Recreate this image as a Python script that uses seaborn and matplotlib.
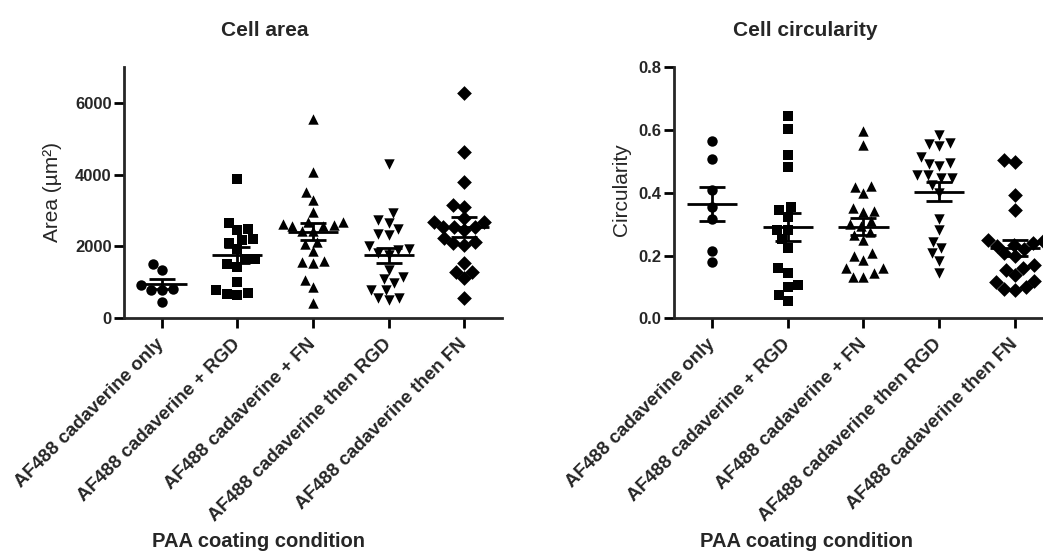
import matplotlib
matplotlib.use("Agg")
import matplotlib.pyplot as plt
import seaborn as sns
import numpy as np
import pandas as pd

##### Données (une liste par condition)
conditions = [
    "AF488 cadaverine only",
    "AF488 cadaverine + RGD",
    "AF488 cadaverine + FN",
    "AF488 cadaverine then RGD",
    "AF488 cadaverine then FN",
]

# Cell area (µm²)
area_only = [1500, 1340, 930, 820, 800, 780, 450]
area_plus_rgd = [3880, 2660, 2480, 2470, 2200, 2180, 2090, 1920, 1650, 1640, 1510,
                 1420, 1020, 790, 700, 690, 650]
area_plus_fn = [5540, 4080, 3510, 3290, 2970, 2690, 2690, 2620, 2600, 2580, 2560,
                2440, 2440, 2130, 2070, 1860, 1580, 1530, 1600, 1070, 880, 420]
area_then_rgd = [4300, 2920, 2740, 2650, 2480, 2320, 2350, 2000, 1920, 1830, 1900,
                 1350, 1090, 1160, 970, 790, 790, 560, 510, 560, 1750]
area_then_fn = [6260, 4640, 3800, 3110, 3150, 2690, 2780, 2690, 2460, 2550, 2550,
                2550, 2130, 2040, 2090, 2230, 1530, 1300, 1110, 1300, 560]

# Cell circularity
circ_only = [0.566, 0.507, 0.409, 0.355, 0.316, 0.216, 0.180]
circ_plus_rgd = [0.644, 0.602, 0.520, 0.481, 0.356, 0.345, 0.324, 0.281, 0.281, 0.252,
                 0.223, 0.145, 0.159, 0.099, 0.106, 0.074, 0.056]
circ_plus_fn = [0.598, 0.552, 0.421, 0.417, 0.398, 0.353, 0.343, 0.340, 0.300, 0.295,
                0.276, 0.265, 0.249, 0.207, 0.186, 0.310, 0.159, 0.143, 0.133, 0.133,
                0.160, 0.200]
circ_then_rgd = [0.584, 0.559, 0.549, 0.555, 0.515, 0.491, 0.485, 0.494, 0.456, 0.446,
                 0.446, 0.456, 0.425, 0.400, 0.318, 0.283, 0.244, 0.223, 0.207, 0.183,
                 0.145]
circ_then_fn = [0.506, 0.499, 0.393, 0.345, 0.250, 0.245, 0.240, 0.235, 0.230, 0.220,
                0.207, 0.200, 0.170, 0.160, 0.154, 0.138, 0.120, 0.117, 0.100, 0.095,
                0.090]

area_ticks = [0, 2000, 4000, 6000]
circ_ticks = [0.0, 0.2, 0.4, 0.6, 0.8]

markers = ["o", "s", "^", "v", "D"]


##### Mise en forme longue (condition / valeur)
def to_long_df(groups, value_col):
    rows = []
    for cond, vals in zip(conditions, groups):
        for v in vals:
            rows.append({"condition": cond, value_col: v})
    return pd.DataFrame(rows)


##### Un panneau : nuage de points + moyenne ± SEM
def draw_panel(ax, df, value_col, ylim, yticks, fmt):
    for cond, marker in zip(conditions, markers):
        sub = df[df["condition"] == cond]
        sns.swarmplot(data=sub, x="condition", y=value_col, order=conditions,
                      marker=marker, color="black", size=7.5, linewidth=0, ax=ax)

    stats = df.groupby("condition")[value_col].agg(["mean", "sem"]).reindex(conditions)
    xs = np.arange(len(conditions))
    ax.hlines(stats["mean"], xs - 0.33, xs + 0.33, color="black", lw=2, zorder=5)
    ax.errorbar(xs, stats["mean"], yerr=stats["sem"], fmt="none", ecolor="black",
                elinewidth=2, capsize=9.5, capthick=2, zorder=5)

    ax.set_xlim(-0.5, len(conditions) - 0.5)
    ax.set_ylim(*ylim)
    ax.set_yticks(yticks)
    ax.set_yticklabels([fmt.format(t) for t in yticks], fontsize=12, fontweight="bold")
    ax.set_xticks(xs)
    ax.set_xticklabels(conditions, rotation=45, ha="right", va="center",
                       rotation_mode="anchor", fontsize=13.5, fontweight="bold")
    ax.set_xlabel("")
    ax.set_ylabel("")
    sns.despine(ax=ax)
    for side in ["left", "bottom"]:
        ax.spines[side].set_linewidth(2)
    ax.tick_params(axis="both", direction="out", length=7, width=2, color="black")
    ax.tick_params(axis="x", pad=10)
    ax.tick_params(axis="y", pad=2)


sns.set_style("ticks")
plt.rcParams["font.family"] = ["Liberation Sans", "DejaVu Sans"]

df_area = to_long_df([area_only, area_plus_rgd, area_plus_fn, area_then_rgd, area_then_fn], "area")
df_circ = to_long_df([circ_only, circ_plus_rgd, circ_plus_fn, circ_then_rgd, circ_then_fn], "circularity")

fig = plt.figure(figsize=(10.43, 5.51), dpi=100)
ax1 = fig.add_axes([0.1189, 0.4223, 0.3624, 0.4564])
ax2 = fig.add_axes([0.6462, 0.4223, 0.3634, 0.4555])

draw_panel(ax1, df_area, "area", (0, 7000), area_ticks, "{:.0f}")
draw_panel(ax2, df_circ, "circularity", (0, 0.8), circ_ticks, "{:.1f}")

# Titres et libellés d'axes (positions à la Prism)
fig.text(265 / 1043, 1 - 31 / 551, "Cell area", ha="center", va="center",
         fontsize=15, fontweight="bold")
fig.text(805 / 1043, 1 - 31 / 551, "Cell circularity", ha="center", va="center",
         fontsize=15, fontweight="bold")
fig.text(258 / 1043, 1 - 532 / 551, "PAA coating condition", ha="center", va="top",
         fontsize=14.5, fontweight="bold")
fig.text(806 / 1043, 1 - 532 / 551, "PAA coating condition", ha="center", va="top",
         fontsize=14.5, fontweight="bold")
fig.text(53 / 1043, 1 - 192 / 551, "Area (µm²)", ha="center", va="center",
         rotation=90, fontsize=15)
fig.text(622 / 1043, 1 - 190 / 551, "Circularity", ha="center", va="center",
         rotation=90, fontsize=15)

plt.savefig("out.png", dpi=100)
